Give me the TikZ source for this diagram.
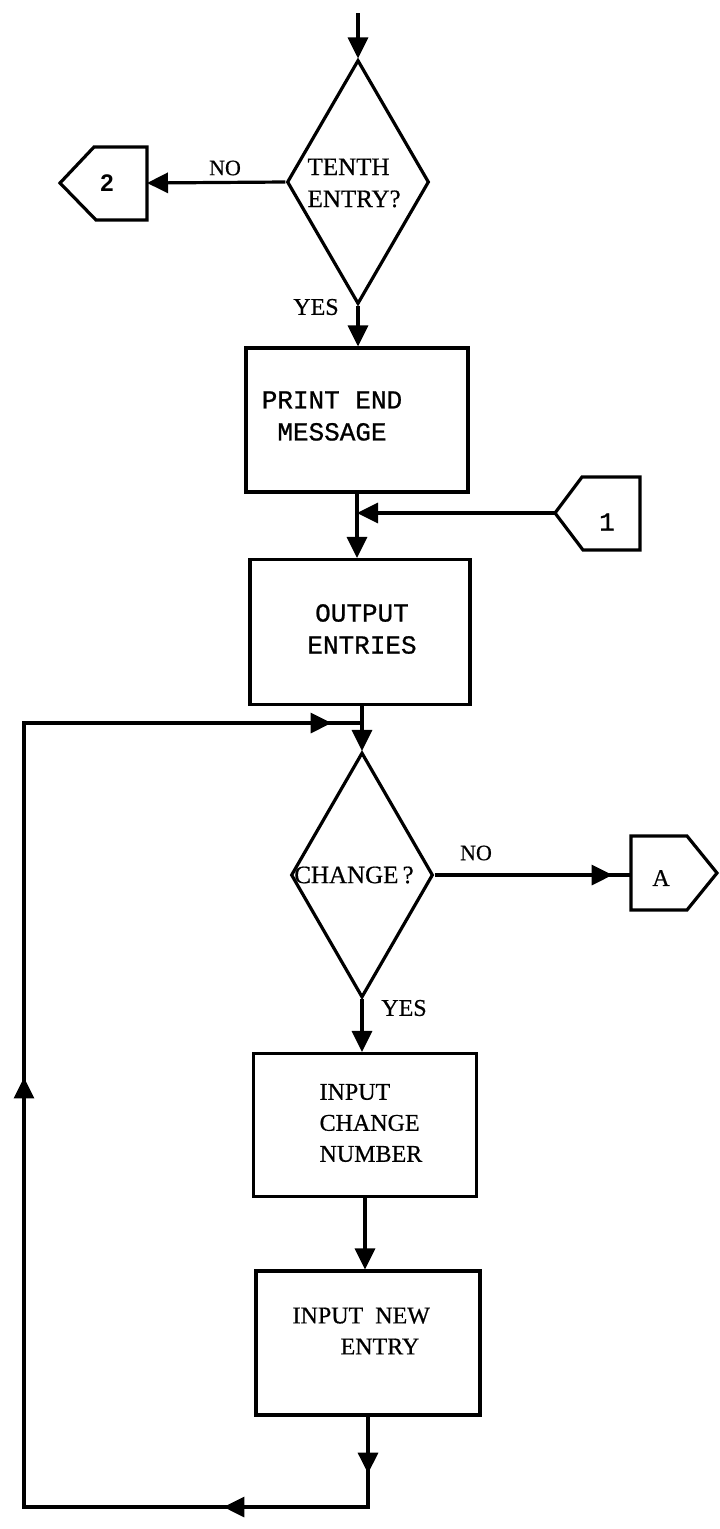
\documentclass[tikz,border=0pt]{standalone}
\usepackage{fontspec}
\setmainfont[FakeBold=0.6]{Liberation Serif}
\setmonofont[FakeBold=0.8]{Liberation Mono}
\setsansfont{Liberation Sans}
\usetikzlibrary{shapes.geometric,arrows.meta,decorations.markings,calc}

\begin{document}
\begin{tikzpicture}[x=1pt,y=-1pt,line width=3.2pt,line join=miter,
  flow/.tip={Triangle[length=21pt,width=20pt]},
  box/.style={draw,rectangle,inner sep=0pt,minimum width=222pt,minimum height=144pt},
  decision/.style={draw,diamond,inner sep=0pt,minimum width=142pt,minimum height=244pt},
  tt/.style={font=\ttfamily\fontsize{26}{32}\selectfont,align=center,inner sep=0pt},
  sr/.style={font=\fontsize{24}{31}\selectfont,align=left,inner sep=0pt},
  qs/.style={font=\fontsize{25}{32}\selectfont,align=left,inner sep=0pt},
  lbl/.style={font=\fontsize{22}{26}\selectfont,inner sep=0pt},
  arr/.style={-flow}]
\useasboundingbox (0,0) rectangle (720,1529);

% ---- first decision ----
\coordinate (start) at (358,13);
\node[decision] (tenth) at (358,182) {};
\node[qs,anchor=west] (tenthtxt) at (306,183) {TENTH\\ENTRY?};
\draw[arr] (start) -- (tenth.north);

% off-page connector 2
\draw (60,183) -- (94,147) -- (147,147) -- (147,220) -- (96,220) -- cycle;
\coordinate (c2in) at (147,183);
\node[font=\sffamily\bfseries\fontsize{24}{26}\selectfont] (c2) at (107,183) {2};
\draw[arr] (tenth.west) -- (c2in);
\node[lbl] (no1) at (225,168) {NO};
\node[lbl,font=\fontsize{24}{28}\selectfont] (yes1) at (316,307) {YES};

% ---- print end message ----
\node[box] (print) at (357,420) {};
\node[tt] (printtxt) at (332,416) {PRINT END\\MESSAGE};
\draw[arr] (tenth.south) -- (tenth.south |- print.north);

% ---- output entries ----
\node[box,minimum width=220pt,minimum height=145pt] (output) at (360,632) {};
\node[tt] (outtxt) at (362,629) {OUTPUT\\ENTRIES};
\draw[arr] (print.south) -- (print.south |- output.north);
\coordinate (join1) at (print.south |- 0,513);

% off-page connector 1
\draw (555,513) -- (582,477) -- (640,477) -- (640,550) -- (583,550) -- cycle;
\coordinate (c1out) at (555,513);
\node[font=\ttfamily\fontsize{26}{28}\selectfont] (c1) at (607,522) {1};
\draw[arr] (c1out) -- (join1);

% ---- second decision ----
\node[decision,minimum height=245pt] (change) at (362,875) {};
\node[font=\fontsize{25}{30}\selectfont,inner sep=0pt] (changetxt) at (354,875) {CHANGE\,?};
\draw[arr] (change.north |- output.south) -- (change.north);

% connector A
\draw (631,836) -- (687,836) -- (717,873) -- (687,910) -- (631,910) -- cycle;
\coordinate (cAin) at (631,875);
\node[font=\fontsize{24}{28}\selectfont] (cA) at (661,878) {A};
\draw[postaction={decorate},decoration={markings,mark=at position 178pt with {\arrow{flow}}}]
  (change.east) -- (cAin);
\node[lbl] (no2) at (476,853) {NO};
\node[lbl,font=\fontsize{24}{28}\selectfont] (yes2) at (404,1008) {YES};

% ---- input change number ----
\node[box,minimum width=223pt,minimum height=143pt] (chgnum) at (365,1125) {};
\node[sr,anchor=west] (chgnumtxt) at (318,1123) {INPUT\\CHANGE\\NUMBER};
\draw[arr] (change.south) -- (change.south |- chgnum.north);

% ---- input new entry ----
\node[box,minimum width=224pt] (newentry) at (368,1343) {};
\node[sr,anchor=west] (newentrytxt) at (291,1331) {INPUT\ \ NEW\\\hspace*{48pt}ENTRY};
\draw[arr] (chgnum.south) -- (chgnum.south |- newentry.north);

% ---- loop back to the change test ----
\coordinate (lbr) at (368,1507);
\coordinate (lbl) at (24,1507);
\coordinate (ltl) at (24,723);
\coordinate (ltr) at (change.north |- ltl);
\draw[postaction={decorate},decoration={markings,
    mark=at position 57pt with {\arrow{flow}},
    mark=at position 235pt with {\arrow{flow}},
    mark=at position 864pt with {\arrow{flow}},
    mark=at position 1526pt with {\arrow{flow}}}]
  (newentry.south) -- (lbr) -- (lbl) -- (ltl) -- (ltr);
\end{tikzpicture}
\end{document}
